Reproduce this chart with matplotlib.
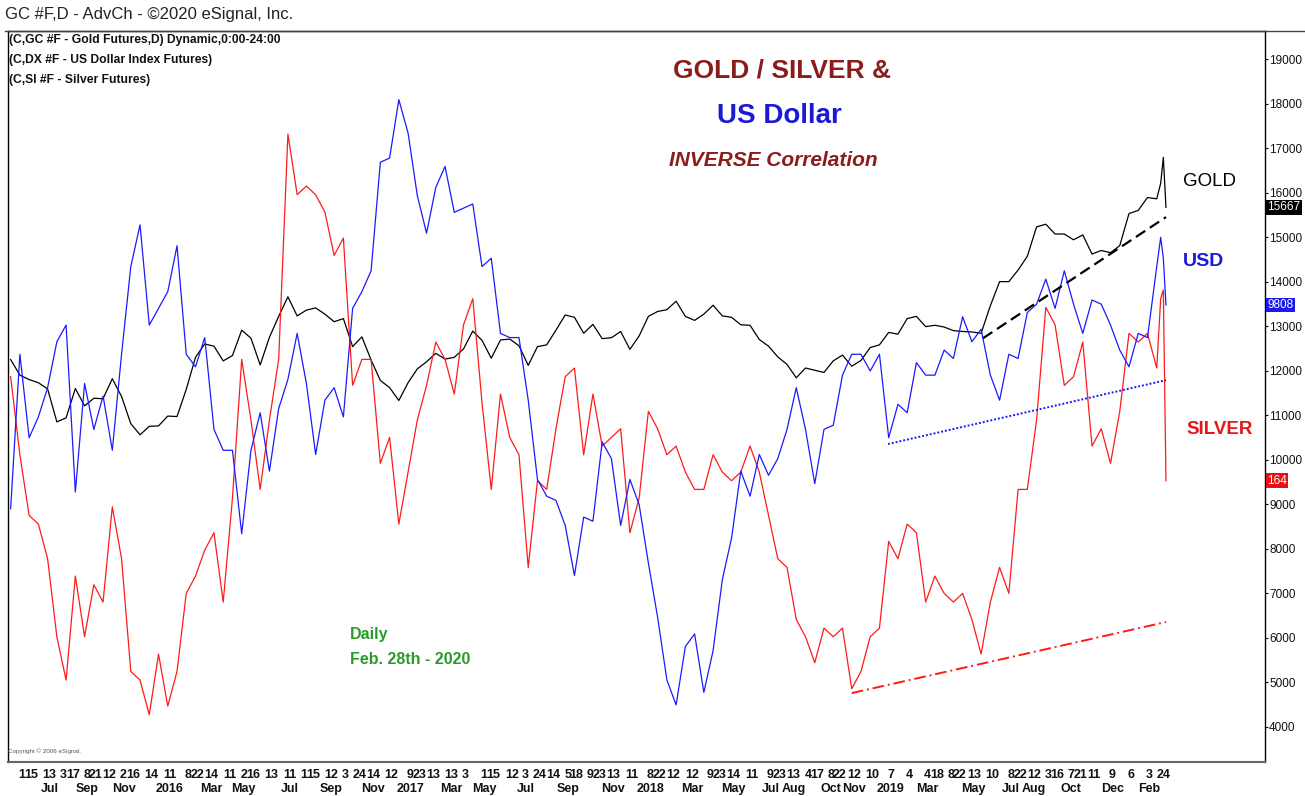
import numpy as np
import pandas as pd
import matplotlib.pyplot as plt
from matplotlib.lines import Line2D

plt.rcParams['font.family'] = ['Liberation Sans', 'DejaVu Sans']

# closes every two weeks, plus the last sessions of Feb 2020
dates = pd.DatetimeIndex(list(pd.date_range("2015-05-15", "2020-02-14", freq="14D"))
                         + list(pd.to_datetime(["2020-02-20", "2020-02-24", "2020-02-28"])))

gold = [1225, 1190, 1180, 1173, 1159, 1085, 1094, 1160, 1121, 1138,
        1137, 1182, 1142, 1081, 1056, 1075, 1076, 1098, 1097, 1158,
        1230, 1260, 1255, 1222, 1234, 1291, 1273, 1213, 1275, 1322,
        1366, 1323, 1336, 1341, 1327, 1310, 1317, 1254, 1276, 1224,
        1178, 1162, 1133, 1173, 1204, 1220, 1239, 1226, 1230, 1249,
        1289, 1268, 1228, 1269, 1271, 1256, 1212, 1254, 1258, 1291,
        1325, 1320, 1284, 1304, 1272, 1274, 1288, 1248, 1278, 1322,
        1333, 1337, 1356, 1322, 1313, 1327, 1347, 1323, 1320, 1303,
        1302, 1270, 1255, 1231, 1214, 1184, 1206, 1201, 1196, 1222,
        1235, 1210, 1223, 1252, 1258, 1286, 1282, 1317, 1322, 1299,
        1302, 1298, 1290, 1288, 1287, 1284, 1346, 1400, 1400, 1426,
        1457, 1523, 1529, 1507, 1507, 1494, 1505, 1462, 1470, 1465,
        1481, 1553, 1560, 1589, 1586, 1621, 1679, 1566.7]

usd = [93.2, 96.9, 94.9, 95.4, 96.1, 97.2, 97.6, 93.6, 96.2, 95.1,
       95.9, 94.6, 96.9, 99.0, 100.0, 97.6, 98.0, 98.4, 99.5, 96.9,
       96.6, 97.3, 95.1, 94.6, 94.6, 92.6, 94.6, 95.5, 94.1, 95.6,
       96.3, 97.4, 96.2, 94.5, 95.8, 96.1, 95.4, 98.0, 98.4, 98.9,
       101.5, 101.6, 103.0, 102.2, 100.7, 99.8, 100.9, 101.4, 100.3, 100.4,
       100.5, 99.0, 99.2, 97.4, 97.3, 97.3, 95.8, 93.9, 93.5, 93.4,
       92.8, 91.6, 93.0, 92.9, 94.8, 94.4, 92.8, 93.9, 93.3, 91.9,
       90.6, 89.1, 88.5, 89.9, 90.2, 88.8, 89.8, 91.5, 92.5, 94.1,
       93.5, 94.5, 94.0, 94.4, 95.1, 96.1, 95.1, 93.8, 95.1, 95.2,
       96.4, 96.9, 96.9, 96.5, 96.9, 94.9, 95.7, 95.5, 96.7, 96.4,
       96.4, 97.0, 96.8, 97.8, 97.2, 97.5, 96.4, 95.8, 96.9, 96.8,
       97.9, 98.1, 98.7, 98.0, 98.9, 98.1, 97.4, 98.2, 98.1, 97.6,
       97.0, 96.6, 97.4, 97.3, 99.0, 99.7, 99.2, 98.08]

silver = [17.6, 16.7, 16.0, 15.9, 15.5, 14.6, 14.1, 15.3, 14.6, 15.2,
          15.0, 16.1, 15.5, 14.2, 14.1, 13.7, 14.4, 13.8, 14.2, 15.1,
          15.3, 15.6, 15.8, 15.0, 16.2, 17.8, 17.1, 16.3, 17.1, 17.8,
          20.4, 19.7, 19.8, 19.7, 19.5, 19.0, 19.2, 17.5, 17.8, 17.8,
          16.6, 16.9, 15.9, 16.5, 17.1, 17.5, 18.0, 17.8, 17.4, 18.2,
          18.5, 17.3, 16.3, 17.4, 16.9, 16.7, 15.4, 16.4, 16.3, 17.0,
          17.6, 17.7, 16.7, 17.4, 16.8, 16.9, 17.0, 15.8, 16.2, 17.2,
          17.0, 16.7, 16.8, 16.5, 16.3, 16.3, 16.7, 16.5, 16.4, 16.5,
          16.8, 16.5, 16.0, 15.5, 15.4, 14.8, 14.6, 14.3, 14.7, 14.6,
          14.7, 14.0, 14.2, 14.6, 14.7, 15.7, 15.5, 15.9, 15.8, 15.0,
          15.3, 15.1, 15.0, 15.1, 14.8, 14.4, 15.0, 15.4, 15.1, 16.3,
          16.3, 17.1, 18.4, 18.2, 17.5, 17.6, 18.0, 16.8, 17.0, 16.6,
          17.2, 18.1, 18.0, 18.1, 17.7, 18.5, 18.6, 16.4]

# trend lines (start, end)
gold_trend_dates = ["2019-05-27", "2020-02-28"]
gold_trend = [1273, 1545]
usd_trend_dates = ["2019-01-03", "2020-02-28"]
usd_trend = [94.75, 96.28]
silver_trend_dates = ["2018-11-09", "2020-02-28"]
silver_trend = [13.95, 14.77]

# bottom axis ticks (day of month) and month names under some of them
tick_dates = ["2015-06-01", "2015-06-15", "2015-07-13", "2015-08-03", "2015-08-17", "2015-09-08",
              "2015-09-21", "2015-10-12", "2015-11-02", "2015-11-16", "2015-12-14", "2016-01-11",
              "2016-02-08", "2016-02-22", "2016-03-14", "2016-04-11", "2016-05-02", "2016-05-16",
              "2016-06-13", "2016-07-11", "2016-08-01", "2016-08-15", "2016-09-12", "2016-10-03",
              "2016-10-24", "2016-11-14", "2016-12-12", "2017-01-09", "2017-01-23", "2017-02-13",
              "2017-03-13", "2017-04-03", "2017-05-01", "2017-05-15", "2017-06-12", "2017-07-03",
              "2017-07-24", "2017-08-14", "2017-09-05", "2017-09-18", "2017-10-09", "2017-10-23",
              "2017-11-13", "2017-12-11", "2018-01-08", "2018-01-22", "2018-02-12", "2018-03-12",
              "2018-04-09", "2018-04-23", "2018-05-14", "2018-06-11", "2018-07-09", "2018-07-23",
              "2018-08-13", "2018-09-04", "2018-09-17", "2018-10-08", "2018-10-22", "2018-11-12",
              "2018-12-10", "2019-01-07", "2019-02-04", "2019-03-04", "2019-03-18", "2019-04-08",
              "2019-04-22", "2019-05-13", "2019-06-10", "2019-07-08", "2019-07-22", "2019-08-12",
              "2019-09-03", "2019-09-16", "2019-10-07", "2019-10-21", "2019-11-11", "2019-12-09",
              "2020-01-06", "2020-02-03", "2020-02-24"]
month_labels = {"2015-07-13": "Jul", "2015-09-08": "Sep", "2015-11-02": "Nov", "2016-01-11": "2016",
                "2016-03-14": "Mar", "2016-05-02": "May", "2016-07-11": "Jul", "2016-09-12": "Sep",
                "2016-11-14": "Nov", "2017-01-09": "2017", "2017-03-13": "Mar", "2017-05-01": "May",
                "2017-07-03": "Jul", "2017-09-05": "Sep", "2017-11-13": "Nov", "2018-01-08": "2018",
                "2018-03-12": "Mar", "2018-05-14": "May", "2018-07-09": "Jul", "2018-08-13": "Aug",
                "2018-10-08": "Oct", "2018-11-12": "Nov", "2019-01-07": "2019", "2019-03-04": "Mar",
                "2019-05-13": "May", "2019-07-08": "Jul", "2019-08-12": "Aug", "2019-10-07": "Oct",
                "2019-12-09": "Dec", "2020-02-03": "Feb"}
y_ticks = list(range(4000, 20000, 1000))


# overlay scaling of dollar index and silver onto the gold axis (gold x 10)
def gold_axis(v):
    return np.asarray(v) * 10.0


def usd_axis(v):
    return 13475 + (np.asarray(v) - 98.08) * 937.7


def silver_axis(v):
    return 1947 * np.asarray(v) - 22403


fig = plt.figure(figsize=(13.05, 7.96), dpi=100)
ax = fig.add_axes([8 / 1305, 1 - 762 / 796, (1265 - 8) / 1305, (762 - 31) / 796])

ax.plot(dates, gold_axis(gold), color='black', lw=0.9)
ax.plot(dates, silver_axis(silver), color='#ff1a1a', lw=0.9)
ax.plot(dates, usd_axis(usd), color='#1a1aff', lw=0.9)

ax.plot(pd.to_datetime(gold_trend_dates), gold_axis(gold_trend), color='black', lw=1.6, dashes=(5, 2.5))
ax.plot(pd.to_datetime(usd_trend_dates), usd_axis(usd_trend), color='#1a1aff', lw=1.4, ls=(0, (1, 1)))
ax.plot(pd.to_datetime(silver_trend_dates), silver_axis(silver_trend), color='#ff1a1a', lw=1.4,
        ls=(0, (6, 2, 1, 2)))

ax.set_xlim(pd.Timestamp("2015-05-11"), pd.Timestamp("2020-07-27"))
ax.set_ylim(3210, 19630)

ax.yaxis.tick_right()
ax.set_yticks(y_ticks)
ax.set_yticklabels([str(v) for v in y_ticks], fontsize=8.5)
ax.tick_params(axis='y', length=2, pad=1, colors='#111111')

xt = pd.to_datetime(tick_dates)
labels = []
for d in tick_dates:
    day = str(pd.Timestamp(d).day)
    labels.append(day + "\n" + month_labels[d] if d in month_labels else day)
ax.set_xticks(xt)
ax.set_xticklabels(labels, fontsize=9, fontweight='bold', linespacing=1.2)
ax.tick_params(axis='x', length=0, pad=5, colors='#111111')

for s in ['left', 'top', 'right']:
    ax.spines[s].set_color('black')
    ax.spines[s].set_linewidth(1.0)
ax.spines['bottom'].set_color('#666666')
ax.spines['bottom'].set_linewidth(1.5)
fig.add_artist(Line2D([5 / 1305, 1], [1 - 31 / 796] * 2, color='#444444', lw=1.0))

# last-value boxes on the price scale
for val, fc, txt in [(gold_axis(gold[-1]), 'black', '15667'),
                     (usd_axis(usd[-1]), '#1a1aee', '9808'),
                     (silver_axis(silver[-1]), '#e81010', '164')]:
    ax.annotate(txt, xy=(1.0, val), xycoords=('axes fraction', 'data'), xytext=(1.5, 0),
                textcoords='offset points', ha='left', va='center', fontsize=8.5,
                color='white', bbox=dict(boxstyle='square,pad=0.12', fc=fc, ec='none'))

fig.text(5 / 1305, 1 - 15 / 796, "GC #F,D - AdvCh - ©2020 eSignal, Inc.", fontsize=12,
         color='#222222', va='center', ha='left')
for i, s in enumerate(["(C,GC #F - Gold Futures,D) Dynamic,0:00-24:00",
                       "(C,DX #F - US Dollar Index Futures)",
                       "(C,SI #F - Silver Futures)"]):
    fig.text(9 / 1305, 1 - (40 + 20 * i) / 796, s, fontsize=8.7, fontweight='bold',
             color='#111111', va='center', ha='left')

fig.text(782 / 1305, 1 - 71 / 796, "GOLD / SILVER &", fontsize=19, fontweight='bold',
         color='#8b1c1c', ha='center', va='center')
fig.text(779 / 1305, 1 - 116 / 796, "US Dollar", fontsize=20, fontweight='bold',
         color='#1a1ad6', ha='center', va='center')
fig.text(773 / 1305, 1 - 160 / 796, "INVERSE Correlation", fontsize=15, fontweight='bold',
         fontstyle='italic', color='#8b1c1c', ha='center', va='center')

fig.text(1183 / 1305, 1 - 181 / 796, "GOLD", fontsize=13.5, color='black', ha='left', va='center')
fig.text(1183 / 1305, 1 - 261 / 796, "USD", fontsize=14, fontweight='bold', color='#1a1ad6',
         ha='left', va='center')
fig.text(1186 / 1305, 1 - 430 / 796, "SILVER", fontsize=13.5, fontweight='bold', color='#e01818',
         ha='left', va='center')

fig.text(350 / 1305, 1 - 634 / 796, "Daily", fontsize=11.5, fontweight='bold', color='#2a9a2a',
         ha='left', va='center')
fig.text(350 / 1305, 1 - 659 / 796, "Feb. 28th - 2020", fontsize=11.5, fontweight='bold',
         color='#2a9a2a', ha='left', va='center')
fig.text(8 / 1305, 1 - 751 / 796, "Copyright © 2006 eSignal.", fontsize=4.5, color='#555555',
         ha='left', va='center')

fig.savefig("out.png", dpi=100, facecolor='white')
